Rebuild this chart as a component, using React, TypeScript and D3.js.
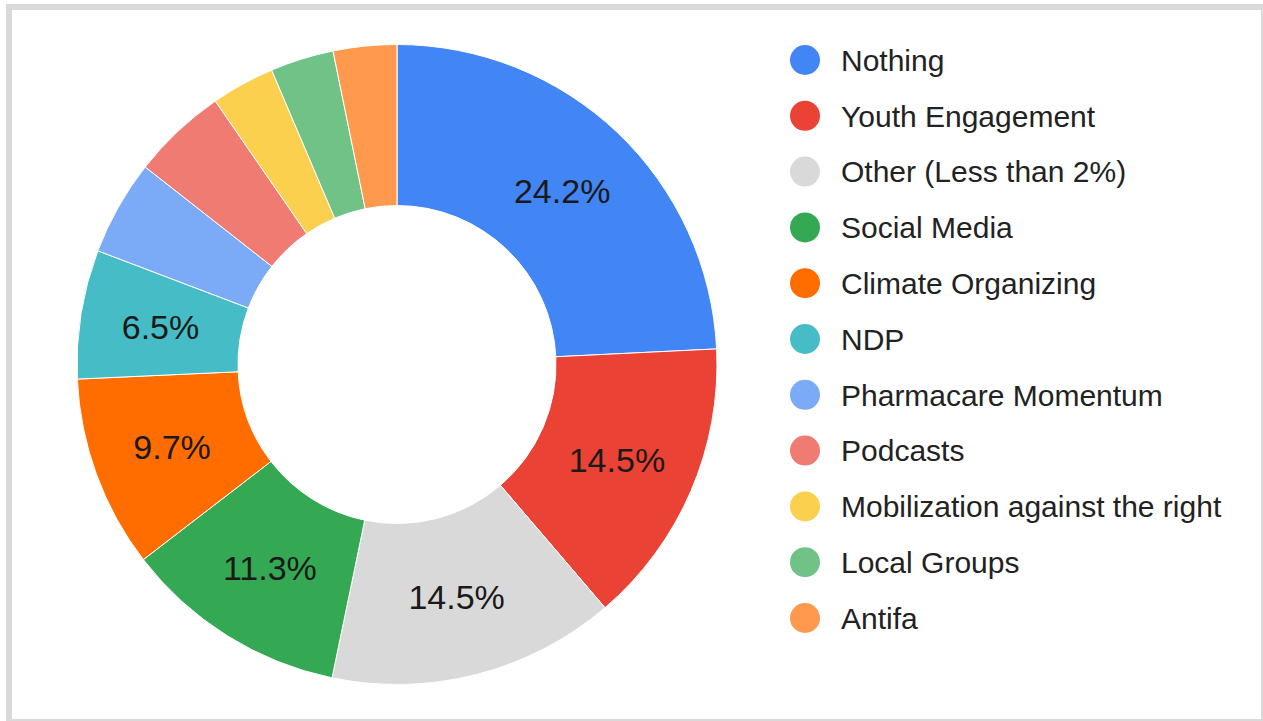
import React from "react";
import * as d3 from "d3";

const categories: string[] = [
  "Nothing",
  "Youth Engagement",
  "Other (Less than 2%)",
  "Social Media",
  "Climate Organizing",
  "NDP",
  "Pharmacare Momentum",
  "Podcasts",
  "Mobilization against the right",
  "Local Groups",
  "Antifa",
];

const values: number[] = [24.2, 14.5, 14.5, 11.3, 9.7, 6.5, 4.8, 4.8, 3.2, 3.2, 3.2];

const colors: string[] = [
  "#4285F4",
  "#EA4335",
  "#D9D9D9",
  "#34A853",
  "#FF6D01",
  "#46BDC6",
  "#7BAAF7",
  "#F07B72",
  "#FCD04F",
  "#71C287",
  "#FF994D",
];

const W = 1263;
const H = 721;
const CX = 397;
const CY = 364.5;
const R_OUT = 320;
const R_IN = 159;
const LABEL_MIN = 5;

export default function App() {
  const data = categories.map((c, i) => ({ name: c, value: values[i], color: colors[i] }));
  const pie = d3
    .pie<{ name: string; value: number; color: string }>()
    .value((d) => d.value)
    .sort(null);
  const arcs = pie(data);
  const arc = d3
    .arc<d3.PieArcDatum<{ name: string; value: number; color: string }>>()
    .innerRadius(R_IN)
    .outerRadius(R_OUT);
  const labelArc = d3
    .arc<d3.PieArcDatum<{ name: string; value: number; color: string }>>()
    .innerRadius((R_IN + R_OUT) / 2)
    .outerRadius((R_IN + R_OUT) / 2);

  const legendY = d3.scaleLinear().domain([0, categories.length - 1]).range([60, 618]);

  return (
    <div style={{ position: "absolute", left: 0, top: 0, width: W, height: H, background: "#fff" }}>
      <svg width={W} height={H} style={{ display: "block" }}>
        <rect x={0} y={0} width={W} height={H} fill="#ffffff" />
        {/* frame */}
        <rect x={6} y={4} width={W - 6} height={6} fill="#d9d9d9" />
        <rect x={6} y={4} width={6} height={H - 4} fill="#d9d9d9" />
        <rect x={W - 2} y={4} width={2} height={H - 4} fill="#d9d9d9" />
        <rect x={6} y={H - 2} width={W - 6} height={2} fill="#d9d9d9" />

        <g transform={`translate(${CX},${CY})`}>
          {arcs.map((a, i) => (
            <path key={i} d={arc(a) || ""} fill={a.data.color} stroke="#ffffff" strokeWidth={1} />
          ))}
          {arcs.map((a, i) => {
            if (a.data.value < LABEL_MIN) return null;
            const [x, y] = labelArc.centroid(a);
            return (
              <text
                key={"l" + i}
                x={x}
                y={y}
                dy="0.36em"
                textAnchor="middle"
                fontFamily="'Liberation Sans', Arial, sans-serif"
                fontSize={34}
                fill="#1a1a1a"
              >
                {a.data.value.toFixed(1)}%
              </text>
            );
          })}
        </g>

        <g>
          {data.map((d, i) => (
            <g key={"lg" + i} transform={`translate(0,${legendY(i)})`}>
              <circle cx={805} cy={0} r={15} fill={d.color} />
              <text
                x={841}
                y={0}
                dy="0.36em"
                fontFamily="'Liberation Sans', Arial, sans-serif"
                fontSize={30}
                fill="#222222"
              >
                {d.name}
              </text>
            </g>
          ))}
        </g>
      </svg>
    </div>
  );
}
